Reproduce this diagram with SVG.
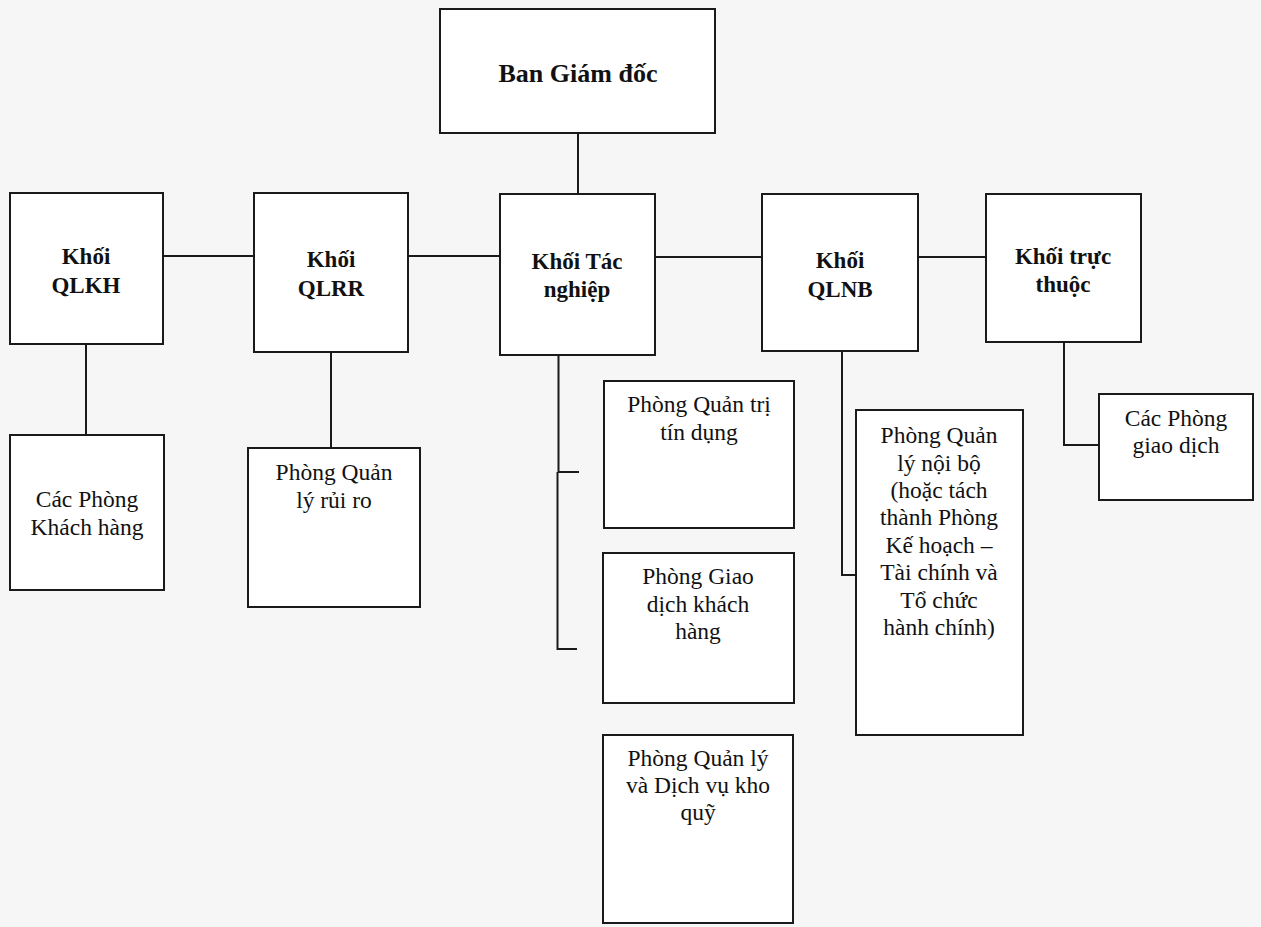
<svg xmlns="http://www.w3.org/2000/svg" width="1261" height="927" viewBox="0 0 1261 927">
<defs>
<style>
.box{fill:#ffffff;stroke:#1a1a1a;stroke-width:2}
.ln{fill:none;stroke:#1a1a1a;stroke-width:2}
.b{font-family:"Liberation Serif","Times New Roman",serif;font-weight:bold;font-size:23px;fill:#111;text-anchor:middle}
.r{font-family:"Liberation Serif","Times New Roman",serif;font-size:23.5px;fill:#111;text-anchor:middle}
</style>
</defs>
<rect x="0" y="0" width="1261" height="927" fill="#f6f6f6"/>
<g id="connectors">
<path class="ln" d="M578 133 V193"/>
<path class="ln" d="M163 256 H254"/>
<path class="ln" d="M408 256 H500"/>
<path class="ln" d="M655 257 H762"/>
<path class="ln" d="M918 257 H986"/>
<path class="ln" d="M86 344 V435"/>
<path class="ln" d="M331 352 V448"/>
<path class="ln" d="M558.5 355 V472 H579"/>
<path class="ln" d="M557.5 472 V649 H577"/>
<path class="ln" d="M842 351 V575 H856"/>
<path class="ln" d="M1064 342 V445 H1099"/>
</g>
<g id="ban-giam-doc">
<rect class="box" x="440" y="9" width="275" height="124"/>
<text class="b" x="578" y="82" style="font-size:26px">Ban Giám đốc</text>
</g>
<g id="khoi-qlkh">
<rect class="box" x="10" y="193" width="153" height="151"/>
<text class="b" x="86" y="264">Khối</text>
<text class="b" x="86" y="293">QLKH</text>
</g>
<g id="khoi-qlrr">
<rect class="box" x="254" y="193" width="154" height="159"/>
<text class="b" x="331" y="267">Khối</text>
<text class="b" x="331" y="296">QLRR</text>
</g>
<g id="khoi-tac-nghiep">
<rect class="box" x="500" y="194" width="155" height="161"/>
<text class="b" x="577" y="269">Khối Tác</text>
<text class="b" x="577" y="297">nghiệp</text>
</g>
<g id="khoi-qlnb">
<rect class="box" x="762" y="194" width="156" height="157"/>
<text class="b" x="840" y="268">Khối</text>
<text class="b" x="840" y="297">QLNB</text>
</g>
<g id="khoi-truc-thuoc">
<rect class="box" x="986" y="194" width="155" height="148"/>
<text class="b" x="1063" y="264">Khối trực</text>
<text class="b" x="1063" y="292">thuộc</text>
</g>
<g id="cac-phong-khach-hang">
<rect class="box" x="10" y="435" width="154" height="155"/>
<text class="r" x="87" y="507">Các Phòng</text>
<text class="r" x="87" y="535">Khách hàng</text>
</g>
<g id="phong-quan-ly-rui-ro">
<rect class="box" x="248" y="448" width="172" height="159"/>
<text class="r" x="334" y="480">Phòng Quản</text>
<text class="r" x="334" y="508">lý rủi ro</text>
</g>
<g id="phong-quan-tri-tin-dung">
<rect class="box" x="604" y="381" width="190" height="147"/>
<text class="r" x="699" y="412">Phòng Quản trị</text>
<text class="r" x="699" y="440">tín dụng</text>
</g>
<g id="phong-giao-dich-khach-hang">
<rect class="box" x="603" y="553" width="191" height="150"/>
<text class="r" x="698" y="584">Phòng Giao</text>
<text class="r" x="698" y="612">dịch khách</text>
<text class="r" x="698" y="639">hàng</text>
</g>
<g id="phong-quan-ly-kho-quy">
<rect class="box" x="603" y="735" width="190" height="188"/>
<text class="r" x="698" y="766">Phòng Quản lý</text>
<text class="r" x="698" y="793">và Dịch vụ kho</text>
<text class="r" x="698" y="820">quỹ</text>
</g>
<g id="phong-quan-ly-noi-bo">
<rect class="box" x="856" y="410" width="167" height="325"/>
<text class="r" x="939" y="443">Phòng Quản</text>
<text class="r" x="939" y="471">lý nội bộ</text>
<text class="r" x="939" y="498">(hoặc tách</text>
<text class="r" x="939" y="525">thành Phòng</text>
<text class="r" x="939" y="553">Kế hoạch –</text>
<text class="r" x="939" y="580">Tài chính và</text>
<text class="r" x="939" y="608">Tổ chức</text>
<text class="r" x="939" y="635">hành chính)</text>
</g>
<g id="cac-phong-giao-dich">
<rect class="box" x="1099" y="394" width="154" height="106"/>
<text class="r" x="1176" y="426">Các Phòng</text>
<text class="r" x="1176" y="453">giao dịch</text>
</g>
</svg>
